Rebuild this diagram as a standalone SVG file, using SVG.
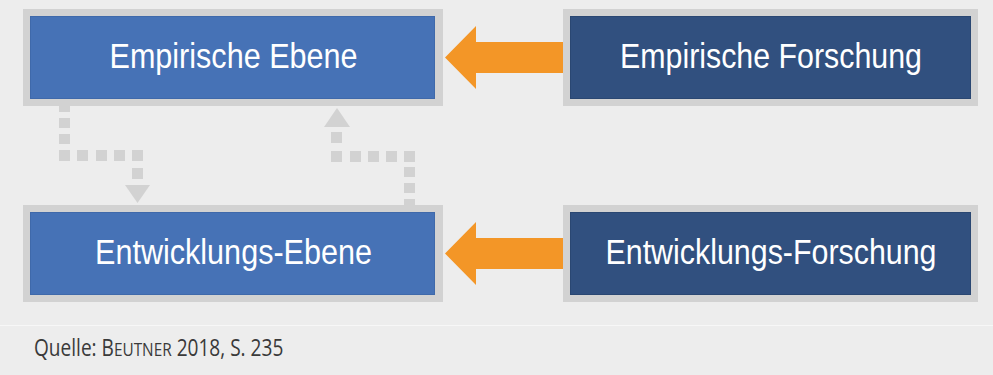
<svg xmlns="http://www.w3.org/2000/svg" width="993" height="375" viewBox="0 0 993 375">
  <style>
    .frame { fill: #d2d2d2; }
    .light { fill: #4672b6; stroke: #3f69aa; stroke-width: 1; }
    .dark { fill: #31507f; stroke: #2a4772; stroke-width: 1; }
    .label { font-family: "Liberation Sans", Arial, sans-serif; font-size: 35px; fill: #ffffff; text-anchor: middle; }
    .dot { fill: #d2d2d2; }
    .flow { fill: #f39627; }
    .source { font-family: "Open Sans", "DejaVu Sans", sans-serif; font-size: 23px; fill: #3a3a3a; }
    .caps { font-size: 18.5px; }
  </style>

  <!-- background -->
  <rect x="0" y="0" width="993" height="375" fill="#ededed"/>
  <line x1="0" y1="325.5" x2="993" y2="325.5" stroke="#f7f7f7" stroke-width="1"/>

  <!-- dotted feedback loop between the two levels -->
  <g id="connectors">
    <!-- down: Empirische Ebene -> Entwicklungs-Ebene -->
    <rect class="dot" x="59" y="106" width="11" height="6"/>
    <rect class="dot" x="59" y="118" width="11" height="10"/>
    <rect class="dot" x="59" y="134" width="11" height="10"/>
    <rect class="dot" x="59" y="150" width="11" height="11"/>
    <rect class="dot" x="77" y="150" width="11" height="11"/>
    <rect class="dot" x="96" y="150" width="11" height="11"/>
    <rect class="dot" x="114" y="150" width="11" height="11"/>
    <rect class="dot" x="132" y="150" width="11" height="11"/>
    <rect class="dot" x="132" y="168" width="11" height="11"/>
    <polygon class="dot" points="125,185 150,185 137.5,203"/>
    <!-- up: Entwicklungs-Ebene -> Empirische Ebene -->
    <rect class="dot" x="404" y="199" width="11" height="6"/>
    <rect class="dot" x="404" y="183" width="11" height="10"/>
    <rect class="dot" x="404" y="167" width="11" height="10"/>
    <rect class="dot" x="404" y="151" width="11" height="11"/>
    <rect class="dot" x="386" y="151" width="11" height="11"/>
    <rect class="dot" x="368" y="151" width="11" height="11"/>
    <rect class="dot" x="350" y="151" width="11" height="11"/>
    <rect class="dot" x="331" y="151" width="11" height="11"/>
    <rect class="dot" x="331" y="132" width="11" height="11"/>
    <polygon class="dot" points="324,127 350,127 337,108"/>
    <!-- block arrows from research to level -->
    <polygon class="flow" points="445,57.5 476,26 476,42 563,42 563,73 476,73 476,89"/>
    <polygon class="flow" points="445,253.5 476,222 476,238 563,238 563,269 476,269 476,285"/>
  </g>

  <g id="empirische-ebene">
    <rect class="frame" x="23" y="9" width="420" height="97"/>
    <rect class="light" x="30.5" y="16.5" width="404" height="82"/>
    <text class="label" x="233.5" y="68" textLength="248" lengthAdjust="spacingAndGlyphs">Empirische Ebene</text>
  </g>

  <g id="empirische-forschung">
    <rect class="frame" x="563" y="9" width="415" height="97"/>
    <rect class="dark" x="570.5" y="16.5" width="400" height="82"/>
    <text class="label" x="771" y="68" textLength="302" lengthAdjust="spacingAndGlyphs">Empirische Forschung</text>
  </g>

  <g id="entwicklungs-ebene">
    <rect class="frame" x="23" y="205" width="420" height="97"/>
    <rect class="light" x="30.5" y="212.5" width="404" height="82"/>
    <text class="label" x="233.5" y="264" textLength="277" lengthAdjust="spacingAndGlyphs">Entwicklungs-Ebene</text>
  </g>

  <g id="entwicklungs-forschung">
    <rect class="frame" x="563" y="205" width="415" height="97"/>
    <rect class="dark" x="570.5" y="212.5" width="400" height="82"/>
    <text class="label" x="771" y="264" textLength="331" lengthAdjust="spacingAndGlyphs">Entwicklungs-Forschung</text>
  </g>

  <!-- source line; author name set in small caps, condensed horizontally -->
  <text class="source" transform="translate(34 356) scale(0.83 1)">Quelle: B<tspan class="caps">EUTNER</tspan> 2018, S. 235</text>
</svg>
